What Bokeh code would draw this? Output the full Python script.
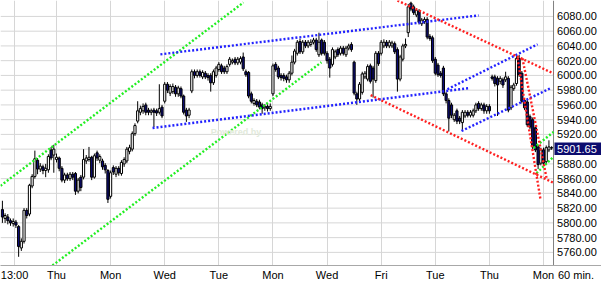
from bokeh.plotting import figure
from bokeh.models import Range1d, FixedTicker, LinearAxis, ColumnDataSource
from bokeh.core.properties import value
from bokeh.embed import file_html
from bokeh.resources import INLINE

# ---- hourly candles ----
opens = [5818,5806,5808,5803,5799,5801,5795,5766,5775,5817,5812,5850,5863,5885,5873,5876,5871,5872,5899,5892,
         5886,5888,5874,5858,5865,5860,5866,5867,5843,5862,5862,5884,5886,5889,5862,5895,5885,5884,5878,5871,
         5836,5875,5866,5874,5867,5880,5884,5897,5900,5921,5938,5950,5952,5960,5953,5950,5953,5952,5950,5957,
         5965,5988,5976,5978,5984,5975,5982,5972,5953,5946,5979,6005,6000,6005,5998,6003,6000,6000,5990,6000,
         6008,6013,6010,6005,6015,6018,6022,6017,6018,6025,6005,6004,5975,5962,5965,5964,5960,5956,5958,5955,
         5975,6015,6010,6000,6000,5998,5994,6003,6018,6030,6046,6032,6045,6040,6042,6045,6048,6028,6048,6045,
         6030,6022,6015,6025,6035,6030,6037,6028,6037,6042,6018,5975,5968,5977,5998,5995,6013,6010,5993,6030,
         6030,6040,6045,6040,6040,6043,6035,5995,6022,6040,6058,6098,6093,6082,6087,6070,6073,6076,6053,6051,
         6022,6014,6003,6010,5975,5966,5960,5940,5952,5942,5936,5945,5950,5946,5946,5952,5962,5955,5960,5952,
         5958,5998,5998,5996,5992,5994,5994,5996,5956,5982,5989,6023,6003,5966,5964,5944,5940,5929,5903,5881,
         5899,5883,5899,5902]
closes = [5808,5810,5803,5800,5802,5797,5768,5775,5817,5810,5851,5863,5887,5873,5877,5871,5874,5890,5888,5900,
          5889,5874,5858,5865,5860,5866,5862,5843,5858,5848,5886,5888,5889,5862,5891,5888,5890,5876,5872,5832,
          5868,5869,5874,5868,5882,5886,5900,5902,5921,5932,5952,5955,5958,5950,5950,5952,5950,5949,5955,5945,
          5988,5980,5985,5985,5975,5983,5972,5950,5945,5953,6005,6000,6005,6000,6004,5998,5997,5990,6005,6010,
          6015,6005,6005,6012,6022,6020,6017,6022,6023,6009,6001,5972,5965,5966,5960,5957,5955,5958,5955,5958,
          6013,6008,5998,5997,5996,5994,6003,6018,6033,6045,6032,6045,6040,6045,6045,6048,6035,6045,6030,6030,
          6020,6010,6035,6032,6028,6037,6030,6037,6040,6035,5976,5968,5988,6002,6003,6012,5992,5995,6030,6016,
          6045,6045,6040,6045,6044,6032,5995,6025,6040,6042,6093,6090,6085,6088,6072,6075,6076,6052,6050,6020,
          6003,6001,6000,5975,5966,5942,5946,5946,5938,5938,5950,5950,5946,5950,5952,5960,5955,5960,5952,5958,
          5952,5996,5989,5987,5996,5987,5998,5953,5984,5987,6023,6001,5965,5956,5933,5930,5903,5899,5879,5899,
          5881,5902,5903,5901.65]
highs = [5830,5813,5812,5806,5806,5804,5797,5779,5820,5820,5853,5866,5898,5888,5881,5879,5880,5893,5903,5906,
         5894,5890,5877,5868,5868,5869,5869,5869,5861,5865,5900,5892,5903,5891,5894,5898,5893,5887,5881,5873,
         5871,5878,5877,5877,5885,5889,5903,5906,5924,5935,5965,5959,5962,5963,5956,5955,5956,5955,5988,5960,
         5991,5991,5988,5989,5987,5986,5985,5974,5956,5956,6008,6008,6008,6008,6007,6006,6003,6003,6008,6013,
         6018,6016,6013,6015,6025,6023,6025,6025,6026,6031,6008,6006,5978,5969,5968,5967,5963,5961,5961,5962,
         6016,6018,6013,6003,6003,6001,6006,6027,6036,6048,6050,6048,6048,6048,6049,6051,6051,6058,6050,6048,
         6033,6025,6038,6035,6038,6040,6040,6040,6043,6045,6020,5978,5991,6005,6006,6015,6016,6013,6033,6033,
         6048,6049,6048,6048,6047,6046,6038,6028,6043,6050,6097,6100,6096,6091,6090,6078,6079,6079,6056,6054,
         6025,6017,6006,6013,5978,5969,5963,5949,5955,5945,5953,5953,5953,5953,5955,5963,5965,5963,5963,5961,
         5961,6001,6001,5999,5999,5997,6005,5999,5987,5990,6026,6028,6006,5969,5967,5947,5943,5932,5906,5902,
         5902,5905,5912,5904]
lows = [5800,5800,5798,5796,5795,5793,5754,5762,5772,5806,5809,5847,5860,5866,5869,5866,5862,5868,5885,5868,
        5882,5870,5855,5854,5857,5857,5858,5838,5840,5843,5859,5880,5883,5858,5860,5884,5881,5872,5867,5827,
        5833,5865,5862,5864,5864,5876,5881,5893,5897,5918,5935,5946,5948,5946,5946,5946,5930,5945,5947,5942,
        5962,5976,5972,5975,5971,5971,5969,5947,5937,5942,5976,5996,5997,5997,5995,5995,5993,5978,5987,5997,
        6005,6002,6002,6002,6012,6015,6014,6014,6015,6006,5998,5969,5962,5959,5957,5954,5948,5952,5951,5952,
        5972,6005,5995,5993,5992,5990,5990,6000,6015,6027,6029,6029,6037,6037,6039,6042,6032,6025,6027,6027,
        6016,5997,6012,6022,6025,6027,6027,6025,6034,6032,5973,5960,5965,5974,5995,5992,5989,5970,5990,6013,
        6027,6037,6037,6037,6037,6029,5978,5992,6019,6037,6052,6087,6082,6079,6069,6067,6070,6049,6047,6017,
        6000,5998,5997,5972,5962,5924,5942,5937,5934,5934,5925,5942,5943,5943,5943,5949,5952,5952,5948,5948,
        5948,5993,5985,5945,5988,5983,5991,5950,5953,5979,5986,5998,5962,5953,5930,5927,5900,5896,5873,5878,
        5878,5880,5896,5899]

# ---- axis ticks / labels ----
x_ticks = [4.5, 20, 40, 60, 80, 100, 120, 140, 160, 180, 200]
x_labels = ["13:00", "Thu", "Mon", "Wed", "Tue", "Mon", "Wed", "Fri", "Tue", "Thu", "Mon"]
y_ticks = [5760, 5780, 5800, 5820, 5840, 5860, 5880, 5900, 5920, 5940, 5960,
           5980, 6000, 6020, 6040, 6060, 6080]
last_price = 5901.65
interval_label = "60 min."

# ---- trend lines (bar index, price) ----
green_x = [[-0.7, 89.1], [18.5, 117.9], [196.3, 203.7], [197.4, 203.7]]
green_y = [[5850.3, 6098.9], [5742.2, 6017.8], [5901.6, 5923.2], [5867.4, 5889.6]]
blue_x = [[58.4, 176.0], [55.5, 172.3], [164.5, 197.8], [169.7, 202.6]]
blue_y = [[6028.6, 6081.4], [5928.6, 5982.7], [5981.3, 6042.2], [5924.6, 5982.7]]
red_x = [[146.0, 203.7], [136.1, 203.7], [190.4, 198.9], [192.2, 201.1]]
red_y = [[6101.6, 6002.6], [5973.2, 5854.3], [6023.2, 5831.3], [6023.2, 5861.1]]

FONT = "Liberation Sans"
X0, X_AXIS, X_LAB, X1 = -0.70, 203.7, 205.0, 221.43   # plot start, price-axis line, label column, right edge
Y0, Y1 = 5742.2, 6101.6

p = figure(width=601, height=283, output_backend="svg", toolbar_location=None,
           x_range=Range1d(X0, X1), y_range=Range1d(Y0, Y1),
           x_axis_location="below", y_axis_location=None,
           min_border_left=0, min_border_top=0, min_border_right=0, min_border_bottom=17)
p.outline_line_color = None
p.background_fill_color = "white"
p.border_fill_color = "white"

# vertical grid through the day ticks
p.xgrid.ticker = FixedTicker(ticks=x_ticks)
p.xgrid.grid_line_color = "#d6d6d6"
p.ygrid.visible = False

# horizontal grid lines stop at the price axis
p.segment(x0=[X0] * len(y_ticks), y0=y_ticks, x1=[X_AXIS] * len(y_ticks), y1=y_ticks,
          line_color="#d6d6d6", line_width=1)

# time axis (line runs across the whole width)
ax = p.xaxis[0]
ax.ticker = FixedTicker(ticks=x_ticks + [212.0])
ax.major_label_overrides = dict(zip(x_ticks + [212.0], x_labels + [interval_label]))
ax.major_tick_line_color = None
ax.minor_tick_line_color = None
ax.major_tick_out = 0
ax.major_tick_in = 0
ax.minor_tick_out = 0
ax.major_label_text_font = FONT
ax.major_label_text_font_size = "11px"
ax.major_label_text_color = "black"
ax.major_label_standoff = 3
ax.axis_line_color = "#a8a8a8"

# thin frame line at the very bottom
bottom = LinearAxis(ticker=FixedTicker(ticks=[]), major_tick_out=0, major_tick_in=0,
                    minor_tick_out=0, major_label_text_font_size="0px",
                    axis_line_color="#b8b8b8")
p.add_layout(bottom, "below")

# price axis line and labels
p.segment(x0=[X_AXIS], y0=[Y0], x1=[X_AXIS], y1=[Y1], line_color="#808080", line_width=1)
y_labels = ["%.2f" % v for v in y_ticks if v != 5900]
p.text(x=[X_LAB] * len(y_labels), y=[v for v in y_ticks if v != 5900], text=y_labels,
       text_font=value(FONT), text_font_size=value("11px"), text_color="black",
       text_align="left", text_baseline="middle")

# candles
idx = list(range(len(closes)))
up = [c >= o for o, c in zip(opens, closes)]
src = ColumnDataSource(dict(x=idx, o=opens, c=closes, h=highs, l=lows,
                            top=[max(o, c) for o, c in zip(opens, closes)],
                            bot=[min(o, c) for o, c in zip(opens, closes)],
                            fill=["white" if u else "#0c0c78" for u in up]))
p.segment(x0="x", y0="l", x1="x", y1="h", source=src, line_color="black", line_width=1)
p.vbar(x="x", top="top", bottom="bot", width=0.8, source=src,
       fill_color="fill", line_color="black", line_width=1)

# trend lines
for xs, ys, col in ((green_x, green_y, "#22ee22"), (blue_x, blue_y, "#2222ff"), (red_x, red_y, "#ff2020")):
    p.multi_line(xs=xs, ys=ys, line_color=col, line_width=2.4, line_dash="2 2")

# faint watermark
p.text(x=[77], y=[5916], text=["Powered by"], text_font=value(FONT), text_font_size=value("9px"),
       text_font_style="bold", text_color="#e2eadb")

# last price box
p.quad(left=[204.05], right=[X1], bottom=[5892.0], top=[5909.0],
       fill_color="#0c0c6e", line_color=None)
p.text(x=[X_LAB], y=[5900.4], text=["%.2f" % last_price], text_font=value(FONT),
       text_font_size=value("11px"), text_color="white", text_align="left", text_baseline="middle")

open("out.html", "w").write(file_html(p, INLINE))
